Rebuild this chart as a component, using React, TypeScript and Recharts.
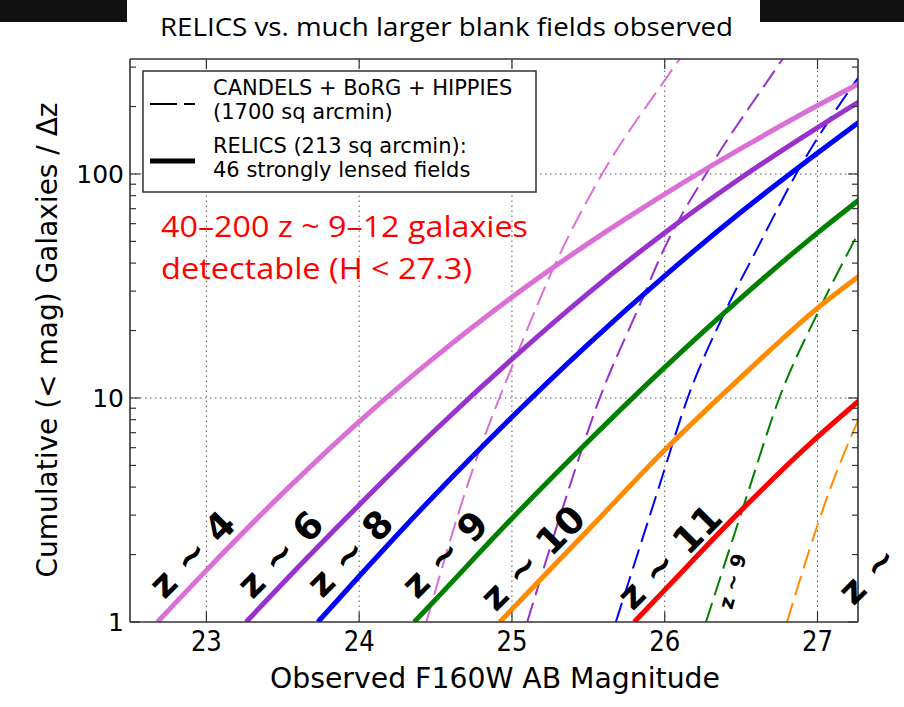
import React from 'react';
import { LineChart, Line, XAxis, YAxis, ReferenceLine, ReferenceDot } from 'recharts';

const W = 904;
const H = 707;

// [observed magnitude, cumulative galaxies per unit z]
const relicsZ4 = [[22.68, 1], [23.0, 1.7], [23.5, 3.76], [24.0, 7.85], [24.5, 15.3], [25.0, 28.2], [25.5, 49], [26.0, 81.3], [26.5, 130], [27.0, 202], [27.3, 259]];
const relicsZ6 = [[23.26, 1], [23.5, 1.49], [24.0, 3.33], [24.5, 7.21], [25.0, 14.9], [25.5, 29.4], [26.0, 54.7], [26.5, 96.2], [27.0, 161], [27.3, 216]];
const relicsZ8 = [[23.73, 1], [24.0, 1.6], [24.5, 3.72], [25.0, 8.22], [25.5, 17.4], [26.0, 35.1], [26.5, 67.6], [27.0, 124], [27.3, 176]];
const relicsZ9 = [[24.36, 1], [24.5, 1.26], [25.0, 2.9], [25.5, 6.41], [26.0, 13.7], [26.5, 28.0], [27.0, 54.6], [27.3, 79.3]];
const relicsZ10 = [[24.92, 1], [25.0, 1.14], [25.5, 2.58], [26.0, 5.86], [26.5, 12.4], [27.0, 25.2], [27.3, 36.2]];
const relicsZ11 = [[25.8, 1], [26.0, 1.39], [26.5, 3.15], [27.0, 6.7], [27.3, 10.1]];

const blankZ4 = [[24.44, 1], [24.72, 4.3], [25.05, 16.7], [25.29, 40.5], [25.59, 100], [26.01, 268], [26.2, 410]];
const blankZ6 = [[25.1, 1], [25.37, 3.88], [25.57, 9.8], [25.83, 25.4], [26.0, 47], [26.27, 100], [26.77, 325], [26.9, 440]];
const blankZ8 = [[25.68, 1], [25.96, 3.96], [26.15, 10], [26.4, 24.7], [26.6, 45.7], [26.86, 100], [27.3, 290]];
const blankZ9 = [[26.27, 1], [26.55, 3.88], [26.75, 10], [27.0, 23.9], [27.3, 60]];
const blankZ10 = [[26.8, 1], [27.08, 3.88], [27.3, 9.0]];

const X_TICKS = [23, 24, 25, 26, 27];
const Y_MAJOR = [1, 10, 100];
const Y_TICKS = [1, 2, 3, 4, 5, 6, 7, 8, 9, 10, 20, 30, 40, 50, 60, 70, 80, 90, 100, 200, 300];
const X_DOMAIN = [22.5, 27.265];
const Y_DOMAIN = [1, 326];

const SERIES = [
  { id: 'bz4', pts: blankZ4, color: '#DA70D6', dashed: true },
  { id: 'bz6', pts: blankZ6, color: '#9932CC', dashed: true },
  { id: 'bz8', pts: blankZ8, color: '#0000FF', dashed: true },
  { id: 'bz9', pts: blankZ9, color: '#008000', dashed: true },
  { id: 'bz10', pts: blankZ10, color: '#FF8C00', dashed: true },
  { id: 'rz4', pts: relicsZ4, color: '#DA70D6', dashed: false },
  { id: 'rz6', pts: relicsZ6, color: '#9932CC', dashed: false },
  { id: 'rz8', pts: relicsZ8, color: '#0000FF', dashed: false },
  { id: 'rz9', pts: relicsZ9, color: '#008000', dashed: false },
  { id: 'rz10', pts: relicsZ10, color: '#FF8C00', dashed: false },
  { id: 'rz11', pts: relicsZ11, color: '#FF0000', dashed: false },
];

const Z_LABELS = [
  { text: 'z ~ 4', m: 22.908, n: 2.0, angle: -45, size: 37, anchor: 'middle' },
  { text: 'z ~ 6', m: 23.484, n: 2.0, angle: -45, size: 37, anchor: 'middle' },
  { text: 'z ~ 8', m: 23.941, n: 2.02, angle: -45, size: 37, anchor: 'middle' },
  { text: 'z ~ 9', m: 24.562, n: 2.0, angle: -45, size: 37, anchor: 'middle' },
  { text: 'z ~ 10', m: 25.137, n: 1.93, angle: -45, size: 37, anchor: 'middle' },
  { text: 'z ~ 11', m: 26.033, n: 1.95, angle: -45, size: 37, anchor: 'middle' },
  { text: 'z ~ 9', m: 26.444, n: 1.52, angle: -75, size: 20, anchor: 'middle' },
  { text: 'z ~', m: 27.235, n: 1.17, angle: -45, size: 37, anchor: 'start' },
];

const FONT = "'DejaVu Sans', sans-serif";
const SANS2 = "'Open Sans', 'DejaVu Sans', sans-serif";
const AXIS = '#333';

const toData = (pts: number[][]) => pts.map(([m, v]) => ({ m, v }));

const LeftTick = (p: any) => {
  const { x, y, payload } = p;
  const v = payload.value;
  const major = Y_MAJOR.includes(v);
  return (
    <g>
      <line x1={x} y1={y} x2={x + (major ? 10 : 6)} y2={y} stroke={AXIS} strokeWidth={1.2} />
      {major ? (
        <text x={x - 6} y={y} dy={9} textAnchor="end" fontSize={25} fontFamily={FONT} fill="#000">{v}</text>
      ) : null}
    </g>
  );
};

const RightTick = (p: any) => {
  const { x, y, payload } = p;
  const major = Y_MAJOR.includes(payload.value);
  return <line x1={x} y1={y} x2={x - (major ? 10 : 6)} y2={y} stroke={AXIS} strokeWidth={1.2} />;
};

const BottomTick = (p: any) => {
  const { x, y, payload } = p;
  return (
    <g>
      <line x1={x} y1={y} x2={x} y2={y - 10} stroke={AXIS} strokeWidth={1.2} />
      <text x={x} y={y + 29} textAnchor="middle" fontSize={28} fontFamily={FONT} fill="#000" textLength={31} lengthAdjust="spacingAndGlyphs">{payload.value}</text>
    </g>
  );
};

const TopTick = (p: any) => {
  const { x, y } = p;
  return <line x1={x} y1={y} x2={x} y2={y + 10} stroke={AXIS} strokeWidth={1.2} />;
};

export default function App() {
  return (
    <div style={{ position: 'absolute', left: 0, top: 0, width: W, height: H, background: '#fff', overflow: 'hidden' }}>
      <LineChart width={W} height={H} margin={{ top: 58, right: 45, bottom: 25, left: 30 }}>
        <XAxis xAxisId="b" dataKey="m" type="number" domain={X_DOMAIN} ticks={X_TICKS} interval={0} allowDataOverflow
          tick={<BottomTick />} tickLine={false} tickSize={0} tickMargin={0} height={60}
          axisLine={{ stroke: AXIS, strokeWidth: 1.6 }} />
        <XAxis xAxisId="t" orientation="top" dataKey="m" type="number" domain={X_DOMAIN} ticks={X_TICKS} interval={0} allowDataOverflow
          tick={<TopTick />} tickLine={false} tickSize={0} tickMargin={0} height={1}
          axisLine={{ stroke: AXIS, strokeWidth: 1.6 }} />
        <YAxis yAxisId="l" type="number" scale="log" domain={Y_DOMAIN} ticks={Y_TICKS} interval={0} allowDataOverflow
          tick={<LeftTick />} tickLine={false} tickSize={0} tickMargin={0} width={100}
          axisLine={{ stroke: AXIS, strokeWidth: 1.6 }} />
        <YAxis yAxisId="r" orientation="right" type="number" scale="log" domain={Y_DOMAIN} ticks={Y_TICKS} interval={0} allowDataOverflow
          tick={<RightTick />} tickLine={false} tickSize={0} tickMargin={0} width={1}
          axisLine={{ stroke: AXIS, strokeWidth: 1.6 }} />

        {X_TICKS.map((t) => (
          <ReferenceLine key={'gx' + t} xAxisId="b" yAxisId="l" x={t} stroke="#555" strokeWidth={1} strokeDasharray="1.5 3.5" />
        ))}
        {[10, 100].map((t) => (
          <ReferenceLine key={'gy' + t} xAxisId="b" yAxisId="l" y={t} stroke="#555" strokeWidth={1} strokeDasharray="1.5 3.5" />
        ))}

        {SERIES.map((s) => (
          <Line key={s.id} xAxisId="b" yAxisId="l" data={toData(s.pts)} dataKey="v" type="monotone"
            stroke={s.color} strokeWidth={s.dashed ? 2 : 5} strokeDasharray={s.dashed ? '20 8' : undefined}
            dot={false} activeDot={false} isAnimationActive={false} />
        ))}

        {Z_LABELS.map((l, i) => (
          <ReferenceDot key={'zl' + i} xAxisId="b" yAxisId="l" x={l.m} y={l.n} r={0} ifOverflow="visible"
            shape={(p: any) => (
              <text x={p.cx} y={p.cy} textAnchor={l.anchor as any}
                dominantBaseline={l.anchor === 'middle' ? 'central' : 'auto'}
                transform={`rotate(${l.angle}, ${p.cx}, ${p.cy})`}
                fontFamily={FONT} fontWeight="bold" fontSize={l.size} fill="#000">{l.text}</text>
            )} />
        ))}
      </LineChart>

      <svg width={W} height={H} style={{ position: 'absolute', left: 0, top: 0, pointerEvents: 'none' }}>
        <rect x={0} y={0} width={127} height={22} fill="#111" />
        <rect x={760} y={0} width={144} height={22} fill="#111" />
        <text x={160} y={36} fontFamily={SANS2} fontSize={26} fill="#000" textLength={573} lengthAdjust="spacingAndGlyphs">RELICS vs. much larger blank fields observed</text>

        <rect x={143} y={71} width={393} height={121} fill="#fff" stroke={AXIS} strokeWidth={1.5} />
        <line x1={150} y1={104} x2={195} y2={104} stroke="#000" strokeWidth={2} strokeDasharray="27 7" />
        <line x1={150} y1={161} x2={195} y2={161} stroke="#000" strokeWidth={5} />
        <g fontFamily={FONT} fontSize={21} fill="#000">
          <text x={213} y={95}>CANDELS + BoRG + HIPPIES</text>
          <text x={213} y={119}>(1700 sq arcmin)</text>
          <text x={213} y={153}>RELICS (213 sq arcmin):</text>
          <text x={213} y={177}>46 strongly lensed fields</text>
        </g>

        <g fontFamily={SANS2} fontSize={30} fill="#FF0000">
          <text x={161} y={237} textLength={367} lengthAdjust="spacingAndGlyphs">40–200 z ~ 9–12 galaxies</text>
          <text x={161} y={279} textLength={311} lengthAdjust="spacingAndGlyphs">detectable (H &lt; 27.3)</text>
        </g>

        <text x={57} y={340} textAnchor="middle" transform="rotate(-90, 57, 340)" fontFamily={FONT} fontSize={28} fill="#000">Cumulative (&lt; mag) Galaxies / Δz</text>
        <text x={270} y={688} fontFamily={FONT} fontSize={29} fill="#000" textLength={450} lengthAdjust="spacingAndGlyphs">Observed F160W AB Magnitude</text>
      </svg>
    </div>
  );
}
